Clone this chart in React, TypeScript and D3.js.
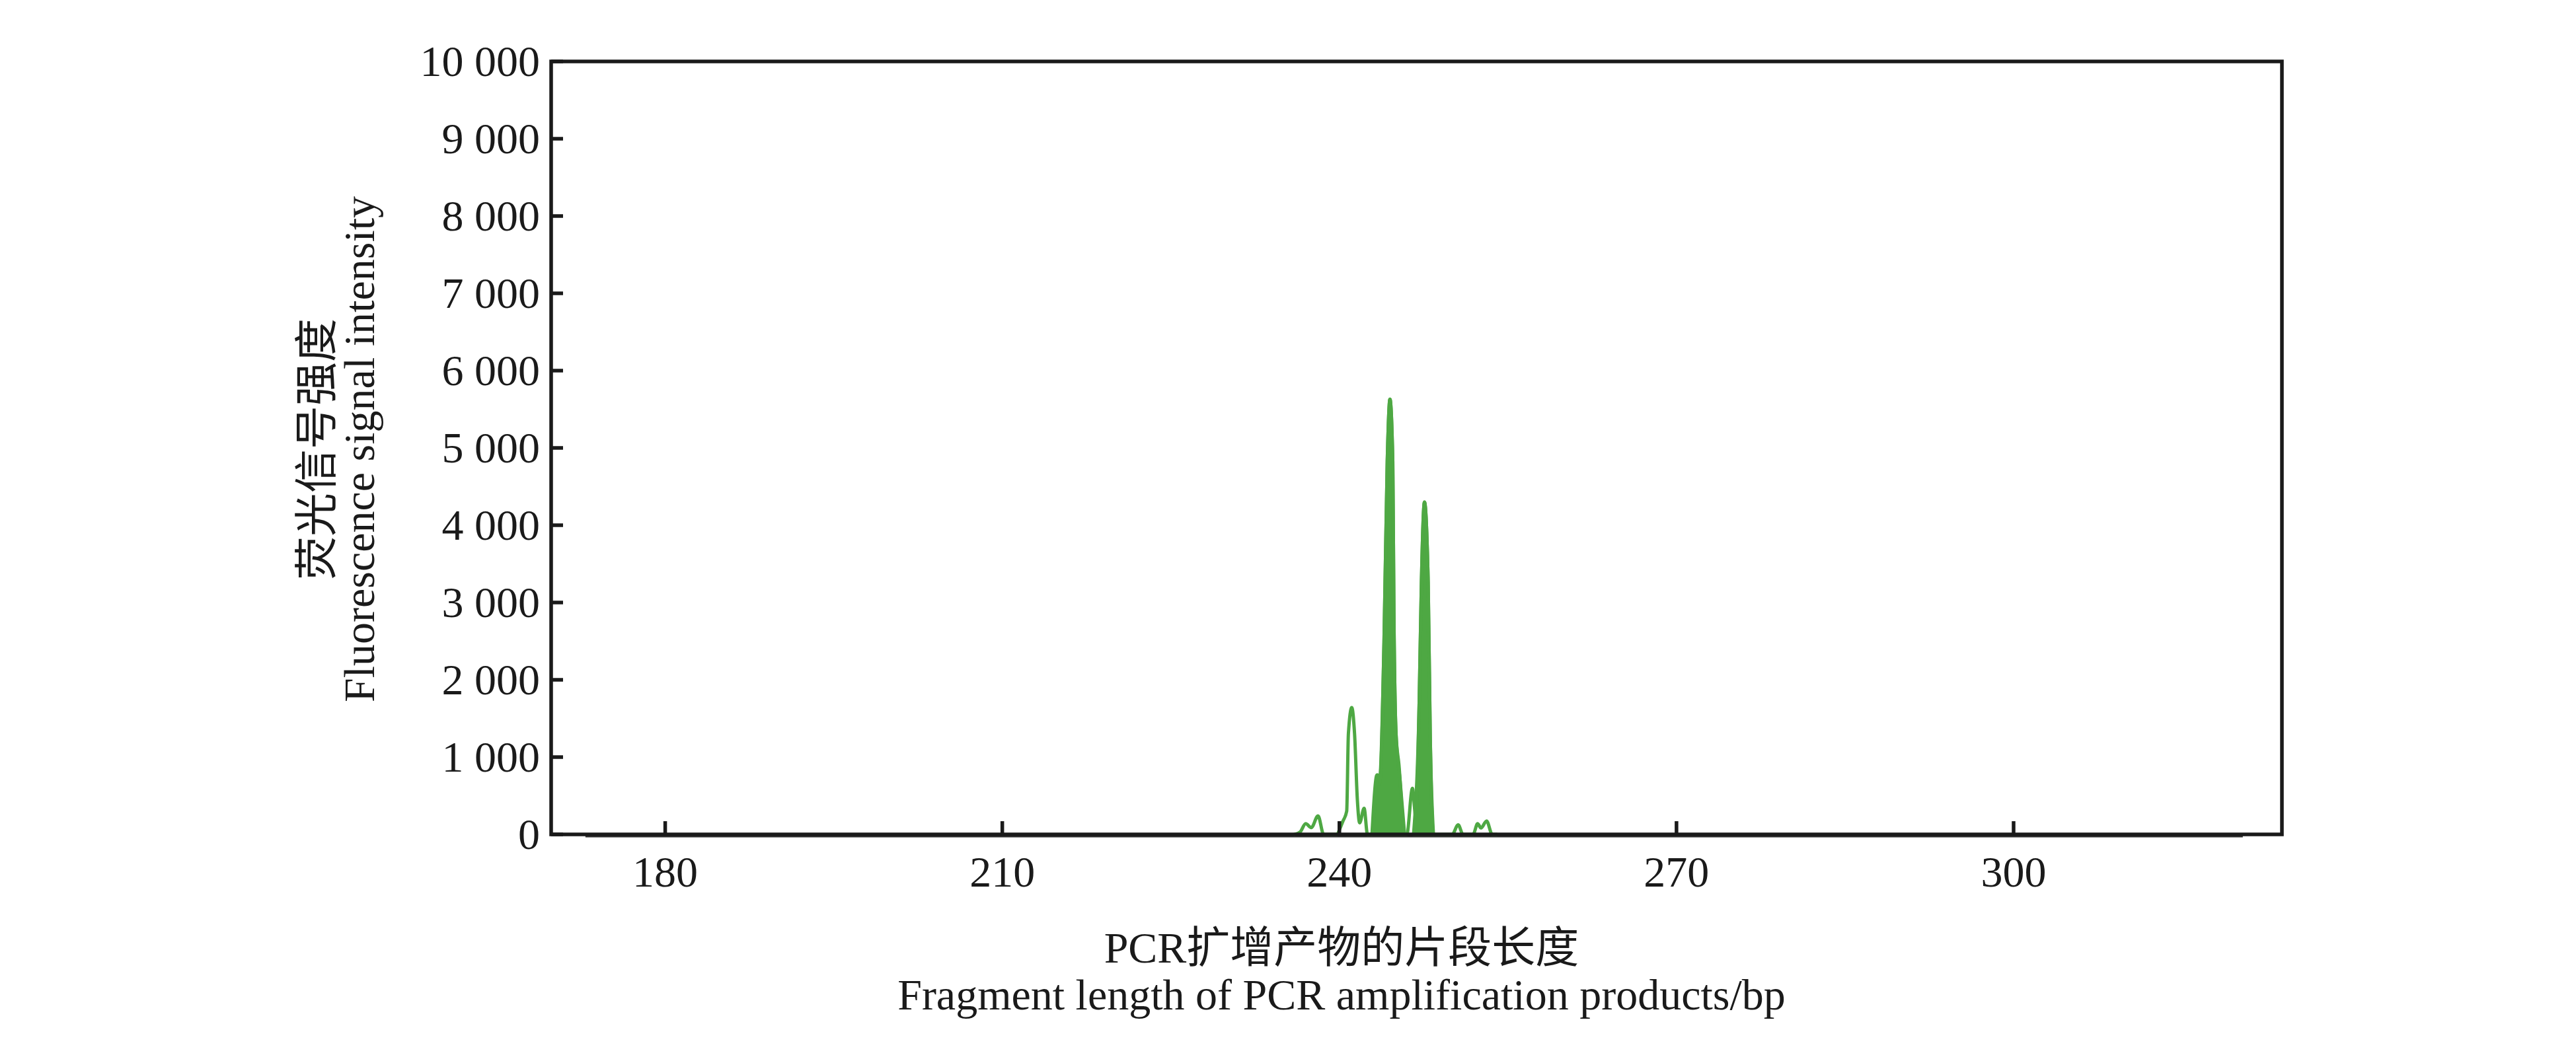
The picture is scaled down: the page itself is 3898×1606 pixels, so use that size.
import React from 'react';
import * as d3 from 'd3';

const W = 3898;
const H = 1606;

// Axis ticks
const xTicks = [180, 210, 240, 270, 300];
const yTicks = [0, 1000, 2000, 3000, 4000, 5000, 6000, 7000, 8000, 9000, 10000];

// Green trace (outline) — fragment length (bp) and fluorescence intensity
const traceBp = [
  236.0, 236.5, 237.0, 237.5, 238.1, 238.6, 239.8, 240.0, 240.3, 240.65, 240.8, 241.1, 241.35,
  241.6, 241.8, 242.2, 242.5, 242.9, 243.4, 243.6, 243.97, 244.26, 244.5, 244.75, 244.85, 245.04,
  245.3, 245.8, 246.0, 246.5, 246.8, 247.1, 247.3, 247.57, 247.9, 248.08, 248.37, 250.04, 250.57,
  251.0, 251.9, 252.3, 252.6, 253.1, 253.6, 254.0,
];
const traceVal = [
  0, 30, 139, 88, 240, 0, 0, 60, 167, 300, 1300, 1640, 1300,
  444, 150, 338, 0, 0, 770, 700, 2480, 4830, 5630, 4830, 2870, 1300,
  900, 0, 0, 597, 225, 1700, 3265, 4300, 3265, 1300, 0, 0, 125,
  0, 0, 139, 83, 174, 0, 0,
];

// Filled peaks
const peakABp = [242.9, 243.35, 243.55, 243.97, 244.26, 244.5, 244.75, 244.85, 245.04, 245.4, 245.8];
const peakAVal = [0, 770, 650, 2480, 4830, 5630, 4830, 2870, 1300, 700, 0];
const peakBBp = [246.6, 247.1, 247.3, 247.57, 247.9, 248.08, 248.37];
const peakBVal = [0, 1700, 3265, 4300, 3265, 1300, 0];

// Dark baseline trace
const baseBp = [172.9, 320.4];
const baseVal = [0, 0];

const xTitle1 = 'PCR扩增产物的片段长度';
const xTitle2 = 'Fragment length of PCR amplification products/bp';
const yTitle1 = '荧光信号强度';
const yTitle2 = 'Fluorescence signal intensity';

const FONT = "'Liberation Serif', 'Times New Roman', 'Noto Sans CJK SC', serif";
const GREEN = '#4ea843';
const INK = '#1a1a1a';

export default function App() {
  const x = d3.scaleLinear().domain([169.85, 323.88]).range([834, 3453]);
  const y = d3.scaleLinear().domain([0, 10000]).range([1263, 93]);

  const zip = (a: number[], b: number[]) => a.map((v, i) => [v, b[i]] as [number, number]);

  const line = d3
    .line<[number, number]>()
    .x((d) => x(d[0]))
    .y((d) => y(d[1]))
    .curve(d3.curveMonotoneX);

  const area = d3
    .area<[number, number]>()
    .x((d) => x(d[0]))
    .y0(y(0))
    .y1((d) => y(d[1]))
    .curve(d3.curveMonotoneX);

  const fmt = (v: number) => d3.format(',')(v).replace(/,/g, ' ');

  const [x0, x1] = x.range();
  const [yb, yt] = y.range();

  return (
    <svg
      width={W}
      height={H}
      style={{ position: 'absolute', left: 0, top: 0, background: '#fff' }}
      fontFamily={FONT}
    >
      <rect x={0} y={0} width={W} height={H} fill="#fff" />

      {/* dark baseline trace */}
      <path
        d={line(zip(baseBp, baseVal)) || ''}
        transform="translate(0,2)"
        fill="none"
        stroke="#333"
        strokeWidth={5}
      />

      {/* filled peaks */}
      <path d={area(zip(peakABp, peakAVal)) || ''} fill={GREEN} stroke={GREEN} strokeWidth={5} strokeLinejoin="round" />
      <path d={area(zip(peakBBp, peakBVal)) || ''} fill={GREEN} stroke={GREEN} strokeWidth={5} strokeLinejoin="round" />

      {/* green trace outline */}
      <path
        d={line(zip(traceBp, traceVal)) || ''}
        fill="none"
        stroke={GREEN}
        strokeWidth={5}
        strokeLinejoin="round"
        strokeLinecap="round"
      />

      {/* x ticks (inward) */}
      {xTicks.map((t) => (
        <g key={'xt' + t}>
          <line x1={x(t)} x2={x(t)} y1={yb} y2={yb - 20} stroke={INK} strokeWidth={5.5} />
          <text x={x(t)} y={1342} fontSize={66} textAnchor="middle" fill={INK}>
            {t}
          </text>
        </g>
      ))}

      {/* y ticks (inward) */}
      {yTicks.map((t) => (
        <g key={'yt' + t}>
          <line x1={x0} x2={x0 + 18} y1={y(t)} y2={y(t)} stroke={INK} strokeWidth={5.5} />
          <text x={817} y={y(t) + 22} fontSize={66} textAnchor="end" fill={INK}>
            {fmt(t)}
          </text>
        </g>
      ))}

      {/* frame */}
      <rect
        x={x0}
        y={yt}
        width={x1 - x0}
        height={yb - yt}
        fill="none"
        stroke={INK}
        strokeWidth={5.5}
        strokeLinejoin="miter"
      />

      {/* x axis title */}
      <text x={2030} y={1457} fontSize={66} textAnchor="middle" fill={INK}>
        {xTitle1}
      </text>
      <text x={2030} y={1528} fontSize={66} textAnchor="middle" fill={INK}>
        {xTitle2}
      </text>

      {/* y axis title */}
      <text transform="translate(502,680) rotate(-90)" fontSize={66} textAnchor="middle" fill={INK}>
        {yTitle1}
      </text>
      <text transform="translate(566,680) rotate(-90)" fontSize={66} textAnchor="middle" fill={INK}>
        {yTitle2}
      </text>
    </svg>
  );
}
